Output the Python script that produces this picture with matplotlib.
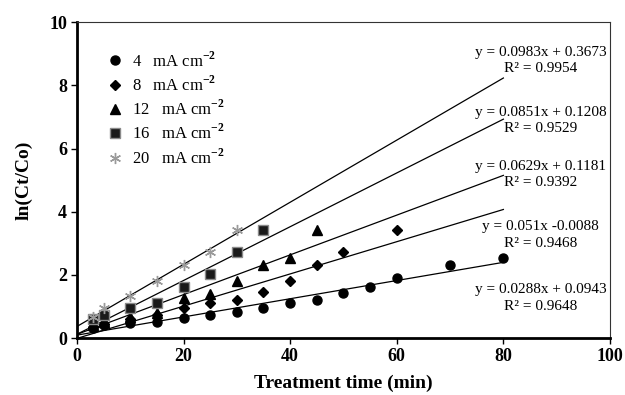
import numpy as np
import matplotlib
matplotlib.use("Agg")
import matplotlib.pyplot as plt

plt.rcParams['font.family'] = 'Liberation Serif'
plt.rcParams['mathtext.fontset'] = 'custom'
plt.rcParams['mathtext.rm'] = 'Liberation Serif'
plt.rcParams['mathtext.bf'] = 'Liberation Serif:bold'

# datos
x4 = [3, 5, 10, 15, 20, 25, 30, 35, 40, 45, 50, 55, 60, 70, 80]
y4 = [0.32, 0.41, 0.48, 0.52, 0.64, 0.72, 0.83, 0.94, 1.10, 1.22, 1.43, 1.62, 1.91, 2.31, 2.52]
x8 = [3, 5, 10, 15, 20, 25, 30, 35, 40, 45, 50, 60]
y8 = [0.36, 0.46, 0.62, 0.73, 0.94, 1.10, 1.22, 1.47, 1.81, 2.31, 2.73, 3.42]
x12 = [3, 5, 10, 15, 20, 25, 30, 35, 40, 45]
y12 = [0.40, 0.52, 0.66, 0.80, 1.26, 1.41, 1.81, 2.31, 2.52, 3.42]
x16 = [3, 5, 10, 15, 20, 25, 30, 35]
y16 = [0.60, 0.72, 0.94, 1.12, 1.62, 2.03, 2.73, 3.42]
x20 = [3, 5, 10, 15, 20, 25, 30]
y20 = [0.67, 0.94, 1.33, 1.81, 2.31, 2.73, 3.42]

# rectas de tendencia (pendiente, ordenada, R2)
pendientes = [0.0983, 0.0851, 0.0629, 0.051, 0.0288]
ordenadas = [0.3673, 0.1208, 0.1181, -0.0088, 0.0943]
ecuaciones = ['y = 0.0983x + 0.3673', 'y = 0.0851x + 0.1208', 'y = 0.0629x + 0.1181',
              'y = 0.051x -0.0088', 'y = 0.0288x + 0.0943']
r2 = ['R² = 0.9954', 'R² = 0.9529', 'R² = 0.9392', 'R² = 0.9468', 'R² = 0.9648']
pos_ec = [9.05, 7.15, 5.42, 3.52, 1.54]
pos_r2 = [8.54, 6.64, 4.91, 3.01, 0.99]

fig = plt.figure(figsize=(6.25, 3.95), dpi=100)
ax = fig.add_axes([0.123, 0.144, 0.853, 0.800])

xl = np.array([0, 80])
for m, b in zip(pendientes, ordenadas):
    ax.plot(xl, m * xl + b, color='black', lw=0.9, zorder=1)

sup = r'   mA cm$^{\mathbf{-2}}$'
ax.plot(x4, y4, 'o', color='black', ms=6.5, ls='none', label='4' + sup, zorder=3)
ax.plot(x8, y8, 'D', color='black', ms=5.5, ls='none', label='8' + sup, zorder=3)
ax.plot(x12, y12, '^', color='black', ms=7, ls='none', label='12' + sup, zorder=3)
ax.plot(x16, y16, 's', color='#1a1a1a', mec='#8a8a8a', mew=1, ms=6.5, ls='none',
        label='16' + sup, zorder=3)
ax.plot(x20, y20, marker=(6, 2, 0), color='#9a9a9a', ms=8, mew=1, ls='none',
        label='20' + sup, zorder=4)

for e, r, ye, yr in zip(ecuaciones, r2, pos_ec, pos_r2):
    ax.text(87, ye, e, ha='center', va='center', fontsize=11)
    ax.text(87, yr, r, ha='center', va='center', fontsize=11)

ax.set_xlim(0, 100)
ax.set_ylim(0, 10)
ax.set_xticks([0, 20, 40, 60, 80, 100])
ax.set_yticks([0, 2, 4, 6, 8, 10])
for lab in ax.get_xticklabels() + ax.get_yticklabels():
    lab.set_fontweight('bold')
    lab.set_fontsize(13)
ax.tick_params(direction='out', length=4, width=1, pad=3)
ax.spines['left'].set_linewidth(2)
ax.spines['bottom'].set_linewidth(2)
ax.spines['top'].set_linewidth(0.8)
ax.spines['right'].set_linewidth(0.8)
ax.spines['top'].set_color('#333333')
ax.spines['right'].set_color('#333333')

ax.set_xlabel('Treatment time (min)', fontsize=14, fontweight='bold', labelpad=7)
ax.set_ylabel('ln(Ct/Co)', fontsize=14, fontweight='bold', labelpad=12)

ax.legend(loc='upper left', bbox_to_anchor=(0.04, 0.93), frameon=False, fontsize=12,
          handletextpad=0.4, labelspacing=0.3, handlelength=1.2, borderaxespad=0)

fig.savefig('out.png', dpi=100)
